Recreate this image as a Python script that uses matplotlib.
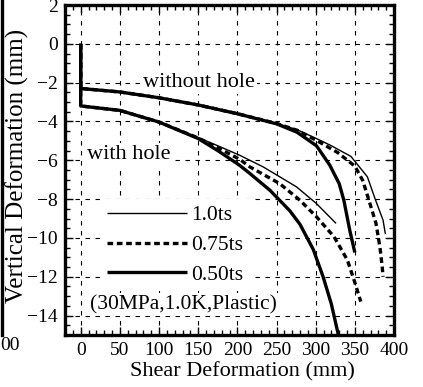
import matplotlib
matplotlib.use("Agg")
import matplotlib.pyplot as plt
from matplotlib.lines import Line2D
from matplotlib.ticker import MultipleLocator

plt.rcParams['font.family'] = ['Liberation Serif', 'DejaVu Serif']

# ---- data (shear deformation mm, vertical deformation mm) ----
nh_050_x = [0, 0, 50, 100, 150, 200, 250, 276, 301, 318, 330, 336, 343.5, 350]
nh_050_y = [0, -2.3, -2.48, -2.78, -3.15, -3.6, -4.12, -4.55, -5.25, -6.25, -7.2, -8.06, -9.6, -10.75]

nh_075_x = [0, 0, 50, 100, 150, 200, 250, 276, 300, 328, 350, 360, 368, 377, 382, 385, 386]
nh_075_y = [0, -2.3, -2.48, -2.78, -3.15, -3.6, -4.1, -4.45, -4.95, -5.6, -6.3, -7.03, -8.06, -9.25, -10.46, -11.5, -12.0]

nh_100_x = [0, 0, 50, 100, 150, 200, 250, 276, 301, 320, 345, 366, 376, 386, 389]
nh_100_y = [0, -2.3, -2.48, -2.78, -3.15, -3.6, -4.1, -4.42, -4.88, -5.25, -5.8, -6.85, -8.0, -9.08, -9.8]

wh_050_x = [0, 0, 50, 100, 150, 175, 203, 216, 241.5, 267, 280, 297, 309.5, 320, 329]
wh_050_y = [0, -3.2, -3.43, -4.03, -4.88, -5.5, -6.26, -6.68, -7.54, -8.6, -9.3, -10.6, -12.0, -13.4, -15.0]

wh_075_x = [0, 0, 50, 100, 150, 175, 203, 216, 254, 280, 301, 323.5, 340.5, 349, 357.6]
wh_075_y = [0, -3.2, -3.43, -4.03, -4.85, -5.35, -5.95, -6.34, -7.2, -8.06, -8.91, -9.94, -11.14, -12.17, -13.28]

wh_100_x = [0, 0, 50, 100, 150, 175, 203, 233, 275.6, 301, 326]
wh_100_y = [0, -3.2, -3.43, -4.03, -4.83, -5.25, -5.74, -6.34, -7.37, -8.23, -9.25]

labels = ['1.0ts', '0.75ts', '0.50ts']
x_ticks = [0, 50, 100, 150, 200, 250, 300, 350, 400]
y_ticks = [-14, -12, -10, -8, -6, -4, -2, 0, 2]

# ---- figure ----
fig = plt.figure(figsize=(4.23, 3.87), dpi=100)
ax = fig.add_axes([65/423, 1-335/387, 329/423, 330/387])

thin = dict(color='black', lw=1.0, solid_capstyle='butt', zorder=4)
dash = dict(color='black', lw=2.4, linestyle=(0, (1.7, 1.1)), zorder=4)
thick = dict(color='black', lw=2.4, solid_capstyle='butt', zorder=4)

h1, = ax.plot(nh_100_x, nh_100_y, **thin)
h2, = ax.plot(nh_075_x, nh_075_y, **dash)
h3, = ax.plot(nh_050_x, nh_050_y, **thick)
ax.plot(wh_100_x, wh_100_y, **thin)
ax.plot(wh_075_x, wh_075_y, **dash)
ax.plot(wh_050_x, wh_050_y, **thick)

ax.set_xlim(-20, 400)
ax.set_ylim(-15, 2)
ax.set_xticks(x_ticks)
ax.set_yticks(y_ticks)
ax.xaxis.set_minor_locator(MultipleLocator(10))
ax.yaxis.set_minor_locator(MultipleLocator(0.5))
ax.tick_params(which='both', direction='in', top=True, right=True, labelsize=14, width=1.0)
ax.tick_params(which='major', length=6, pad=5)
ax.tick_params(which='minor', length=3.5)
for s in ax.spines.values():
    s.set_linewidth(2.4)

ax.set_axisbelow(True)
ax.grid(True, which='major', color='black', lw=0.8, linestyle=(0, (4, 5)))

ax.set_xlabel('Shear Deformation (mm)', fontsize=16, va='center')
ax.xaxis.set_label_coords(0.538, -0.112)
ax.set_ylabel('Vertical Deformation (mm)', fontsize=18, va='center')
ax.yaxis.set_label_coords(-0.146, 0.511)

bb = dict(facecolor='white', edgecolor='none', pad=1.5)
ax.text(79.5, -2.22, 'without hole', fontsize=16, ha='left', va='baseline', bbox=bb, zorder=3)
ax.text(8.4, -5.91, 'with hole', fontsize=16, ha='left', va='baseline', bbox=bb, zorder=3)
ax.text(12, -13.66, '(30MPa,1.0K,Plastic)', fontsize=15.5, ha='left', va='baseline', bbox=bb, zorder=3)

leg = ax.legend([h1, h2, h3], labels, loc='center left',
                bbox_to_anchor=((101-65)/329, (335-245)/330), fontsize=15.5,
                handlelength=3.7, handletextpad=0.2, labelspacing=0.45,
                borderpad=0.3, borderaxespad=0, frameon=True, fancybox=False)
leg.get_frame().set_facecolor('white')
leg.get_frame().set_edgecolor('none')
leg.get_frame().set_alpha(1)
leg.set_zorder(3)

# neighbouring (clipped) panel remnants at the left edge
fig.add_artist(Line2D([1.5/423, 1.5/423], [1-335/387, 1.0], color='black', lw=2.4,
                      transform=fig.transFigure))
fig.text(0.5/423, 1-345/387, '00', fontsize=14, ha='left', va='center')

fig.savefig('out.png', dpi=100)
